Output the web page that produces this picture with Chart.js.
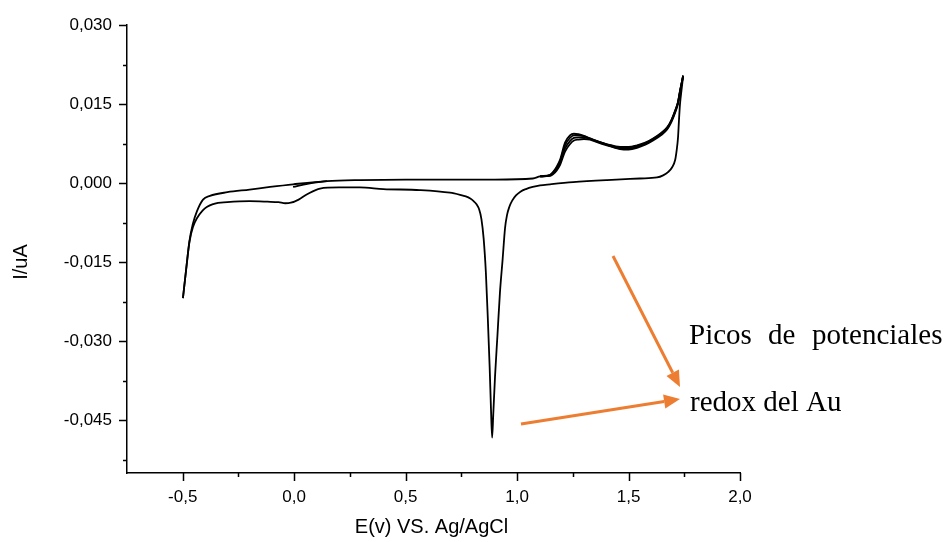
<!DOCTYPE html>
<html>
<head>
<meta charset="utf-8">
<script src="https://cdn.jsdelivr.net/npm/chart.js@4/dist/chart.umd.min.js"></script>
<style>
html,body{margin:0;padding:0;background:#fff;}
canvas{display:block;}
</style>
</head>
<body>
<canvas id="c" width="944" height="542"></canvas>
<script>
// ---- Data (E in V vs Ag/AgCl, I in uA) ----
// Anodic (forward) sweep, cycle 1
const fwdE = [-0.499,-0.485,-0.470,-0.455,-0.436,-0.409,-0.378,-0.300,-0.200,-0.108,-0.005,0.147,0.295,0.500,0.700,0.900,1.071,1.103,1.148,1.161,1.177,1.193,1.215,1.237,1.255,1.275,1.300,1.327,1.365,1.403,1.462,1.500,1.538,1.575,1.610,1.645,1.673,1.692,1.709,1.722,1.731,1.745];
const fwdI = [-0.0218,-0.0165,-0.0110,-0.0078,-0.0053,-0.0031,-0.0024,-0.0017,-0.0012,-0.0007,-0.0002,0.0004,0.0006,0.0007,0.0007,0.0007,0.0009,0.0013,0.0016,0.0021,0.0031,0.0045,0.0077,0.0091,0.0094,0.0093,0.0090,0.0085,0.0079,0.0074,0.0069,0.0069,0.0072,0.0077,0.0085,0.0095,0.0106,0.0120,0.0138,0.0155,0.0176,0.0204];
// Anodic sweep, further cycles (oxidation region)
const cycE = [1.103,1.148,1.161,1.177,1.193,1.215,1.237,1.255,1.275,1.300,1.327,1.365,1.403,1.462,1.500,1.538,1.575,1.610,1.645,1.673,1.692,1.709,1.722,1.731,1.745];
const cyc2I = [0.0013,0.0015,0.0020,0.0029,0.0042,0.0072,0.0086,0.0091,0.0091,0.0089,0.0085,0.0079,0.0074,0.0068,0.0068,0.0071,0.0076,0.0084,0.0094,0.0105,0.0119,0.0137,0.0154,0.0175,0.0204];
const cyc3I = [0.0013,0.0015,0.0019,0.0027,0.0039,0.0066,0.0080,0.0086,0.0087,0.0087,0.0084,0.0078,0.0073,0.0066,0.0066,0.0069,0.0075,0.0083,0.0093,0.0104,0.0118,0.0136,0.0153,0.0174,0.0204];
const cyc4I = [0.0013,0.0014,0.0017,0.0024,0.0035,0.0060,0.0074,0.0081,0.0083,0.0084,0.0083,0.0077,0.0072,0.0065,0.0064,0.0067,0.0073,0.0081,0.0091,0.0102,0.0116,0.0134,0.0151,0.0172,0.0204];
// Start of the first sweep
const startE = [-0.005,0.060,0.147];
const startI = [-0.0007,-0.0001,0.0004];
// Cathodic (reverse) sweep
const revE = [1.745,1.738,1.731,1.726,1.722,1.716,1.709,1.695,1.677,1.655,1.628,1.551,1.403,1.251,1.148,1.103,1.070,1.040,1.015,0.995,0.978,0.965,0.955,0.946,0.935,0.923,0.912,0.901,0.893,0.888,0.883,0.877,0.869,0.860,0.850,0.840,0.830,0.818,0.805,0.790,0.770,0.744,0.699,0.564,0.400,0.295,0.200,0.116,0.058,0.020,-0.015,-0.040,-0.070,-0.120,-0.200,-0.300,-0.360,-0.409,-0.454,-0.470,-0.485,-0.499];
const revI = [0.0204,0.0178,0.0151,0.0118,0.0087,0.0063,0.0044,0.0030,0.0021,0.0015,0.0011,0.0009,0.0006,0.0002,-0.0002,-0.0004,-0.0007,-0.0011,-0.0016,-0.0023,-0.0033,-0.0045,-0.0060,-0.0085,-0.0145,-0.0208,-0.0288,-0.0367,-0.0440,-0.0483,-0.0430,-0.0350,-0.0260,-0.0170,-0.0105,-0.0068,-0.0050,-0.0040,-0.0034,-0.0029,-0.0025,-0.0022,-0.0018,-0.0013,-0.0011,-0.0008,-0.0008,-0.0010,-0.0021,-0.0031,-0.0037,-0.0038,-0.0036,-0.0035,-0.0034,-0.0036,-0.0039,-0.0051,-0.0083,-0.0112,-0.0165,-0.0218];

// ---- Axis ticks ----
const xMajorTicks = [-0.5,0.0,0.5,1.0,1.5,2.0];
const xMinorTicks = [-0.25,0.25,0.75,1.25,1.75];
const yMajorTicks = [-0.045,-0.030,-0.015,0.000,0.015,0.030];
const yMinorTicks = [-0.0525,-0.0375,-0.0225,-0.0075,0.0075,0.0225];
const xTitle = 'E(v) VS. Ag/AgCl';
const yTitle = 'I/uA';
const noteLine1 = ['Picos','de','potenciales'];
const noteLine2 = 'redox del Au';

function pts(E, I){ return E.map((e,i)=>({x:e, y:I[i]})); }
function ds(E, I){
  return {data: pts(E,I), showLine:true, borderColor:'#000', borderWidth:1.8, pointRadius:0, cubicInterpolationMode:'monotone', fill:false};
}

const decor = {
  id:'decor',
  afterDraw(chart){
    const ctx = chart.ctx;
    const xs = chart.scales.x, ys = chart.scales.y;
    const ax = xs.left, ay = ys.bottom;
    ctx.save();
    ctx.strokeStyle = '#000';
    ctx.lineWidth = 1.5;
    ctx.beginPath();
    yMajorTicks.forEach(v=>{ const p = Math.round(ys.getPixelForValue(v))+0.5; ctx.moveTo(ax-8,p); ctx.lineTo(ax,p); });
    yMinorTicks.forEach(v=>{ const p = Math.round(ys.getPixelForValue(v))+0.5; ctx.moveTo(ax-4,p); ctx.lineTo(ax,p); });
    xMajorTicks.forEach(v=>{ const p = Math.round(xs.getPixelForValue(v))+0.5; ctx.moveTo(p,ay); ctx.lineTo(p,ay+8); });
    xMinorTicks.forEach(v=>{ const p = Math.round(xs.getPixelForValue(v))+0.5; ctx.moveTo(p,ay); ctx.lineTo(p,ay+4); });
    ctx.stroke();

    // axis titles
    ctx.fillStyle = '#000';
    ctx.font = '20px "Liberation Sans", Arial, sans-serif';
    ctx.textAlign = 'center';
    ctx.textBaseline = 'alphabetic';
    ctx.fillText(xTitle, (xs.left+xs.right)/2 - 2, 533);
    ctx.save();
    ctx.translate(27, 262);
    ctx.rotate(-Math.PI/2);
    ctx.fillText(yTitle, 0, 0);
    ctx.restore();

    // annotation
    ctx.font = '29px "Liberation Serif", "Times New Roman", serif';
    ctx.textAlign = 'left';
    ctx.fillText(noteLine1[0], 689, 344);
    ctx.fillText(noteLine1[1], 768, 344);
    ctx.fillText(noteLine1[2], 812, 344);
    ctx.fillText(noteLine2, 690, 411);

    function arrow(x1,y1,x2,y2){
      const ang = Math.atan2(y2-y1, x2-x1);
      const L = 16, W = 7;
      const bx = x2 - L*Math.cos(ang), by = y2 - L*Math.sin(ang);
      ctx.strokeStyle = '#ED7D31';
      ctx.fillStyle = '#ED7D31';
      ctx.lineWidth = 3;
      ctx.beginPath(); ctx.moveTo(x1,y1); ctx.lineTo(bx,by); ctx.stroke();
      ctx.beginPath();
      ctx.moveTo(x2,y2);
      ctx.lineTo(bx + W*Math.sin(ang), by - W*Math.cos(ang));
      ctx.lineTo(bx - W*Math.sin(ang), by + W*Math.cos(ang));
      ctx.closePath(); ctx.fill();
    }
    arrow(613,256,680,387);
    arrow(521,424,680,399);
    ctx.restore();
  }
};

new Chart(document.getElementById('c'), {
  type:'scatter',
  data:{datasets:[
    ds(startE,startI),
    ds(fwdE,fwdI),
    ds(cycE,cyc2I),
    ds(cycE,cyc3I),
    ds(cycE,cyc4I),
    ds(revE,revI)
  ]},
  options:{
    responsive:false,
    animation:false,
    devicePixelRatio:1,
    layout:{padding:{left:0,right:204,top:24,bottom:0}},
    plugins:{legend:{display:false}, tooltip:{enabled:false}, title:{display:false}},
    scales:{
      x:{
        type:'linear', min:-0.75, max:2.0,
        afterBuildTicks(s){ s.ticks = xMajorTicks.map(v=>({value:v})); },
        afterFit(s){ s.height = 69; },
        grid:{display:true, drawOnChartArea:false, drawTicks:false},
        border:{display:true, color:'#000', width:1.5},
        ticks:{padding:14, color:'#000', maxRotation:0, autoSkip:false,
          font:{family:'"Liberation Sans", Arial, sans-serif', size:17},
          callback:(v)=>Number(v).toFixed(1).replace('.',',')}
      },
      y:{
        type:'linear', min:-0.055, max:0.030,
        afterBuildTicks(s){ s.ticks = yMajorTicks.map(v=>({value:v})); },
        afterFit(s){ s.width = 127; },
        grid:{display:true, drawOnChartArea:false, drawTicks:false},
        border:{display:true, color:'#000', width:1.5},
        ticks:{padding:15, color:'#000', autoSkip:false,
          font:{family:'"Liberation Sans", Arial, sans-serif', size:17},
          callback:(v)=>Number(v).toFixed(3).replace('.',',')}
      }
    }
  },
  plugins:[decor]
});
</script>
</body>
</html>
